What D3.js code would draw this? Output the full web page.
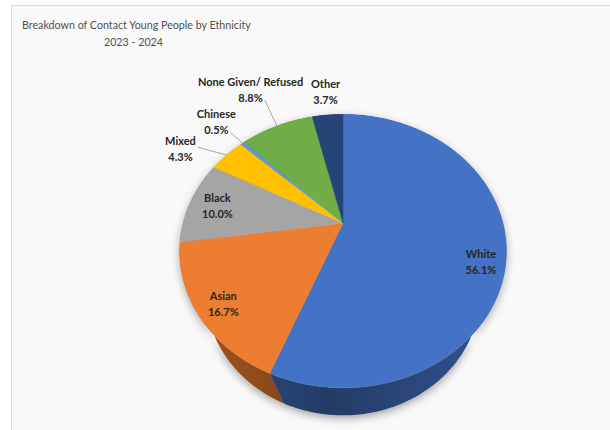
<!DOCTYPE html>
<html><head><meta charset="utf-8">
<script src="https://cdn.jsdelivr.net/npm/d3@7"></script>
<style>body{margin:0;background:#fff}</style>
</head><body>
<svg id="c" width="610" height="430"></svg>
<script>
// ---- data ----
const categories = ["White","Asian","Black","Mixed","Chinese","None Given/ Refused","Other"];
const values = [56.1,16.7,10.0,4.3,0.5,8.8,3.7];
const valueLabels = ["56.1%","16.7%","10.0%","4.3%","0.5%","8.8%","3.7%"];
const colors = ["#4472C4","#ED7D31","#A5A5A5","#FFC000","#5B9BD5","#70AD47","#264478"];
const titleLines = ["Breakdown of Contact Young People by Ethnicity","2023 - 2024"];

// ---- label layout (radial position in pie units + nudge) ----
const labelLayout = [
  {r:0.85, dx:0,   dy:17, leader:null},
  {r:0.85, dx:0,   dy:4,  leader:null},
  {r:0.82, dx:0,   dy:1,  leader:null},
  {r:1.25, dx:-21, dy:9,  leader:0},
  {r:1.25, dx:-5,  dy:-4, leader:1},
  {r:1.25, dx:-13, dy:-16, leader:1},
  {r:1.25, dx:1,   dy:-1, leader:null}
];

const svg = d3.select("#c");
const defs = svg.append("defs");
const f = defs.append("filter").attr("id","sh").attr("x","-20%").attr("y","-20%").attr("width","140%").attr("height","140%");
f.append("feDropShadow").attr("dx",0).attr("dy",3).attr("stdDeviation",4).attr("flood-color","#000").attr("flood-opacity",0.35);

// frame
svg.append("rect").attr("x",11.5).attr("y",5.5).attr("width",700).attr("height",500)
  .attr("fill","#f9f9f9").attr("stroke","#d9d9d9");

// title
const title = svg.append("g").attr("font-family","Lato, 'Open Sans', sans-serif").attr("fill","#505050").attr("font-size",10.7);
title.append("text").attr("x",22).attr("y",29).text(titleLines[0]);
title.append("text").attr("x",133.5).attr("y",46).attr("text-anchor","middle").text(titleLines[1]);

// ---- 3D projection ----
const cx=343, cy=223, FOC=446, DIST=2.79, EL=55*Math.PI/180, SE=Math.sin(EL), CE=Math.cos(EL), TH=0.62;
function proj(phi, r, h){
  const u=r*Math.sin(phi), v=r*Math.cos(phi);
  const depth=DIST+v*CE-h*SE;
  return [cx+FOC*u/depth, cy-FOC*(v*SE+h*CE)/depth];
}
function arcPts(a0,a1,r,h){
  const n=Math.max(2,Math.ceil(Math.abs(a1-a0)/(Math.PI/360)));
  const pts=[];
  for(let i=0;i<=n;i++){pts.push(proj(a0+(a1-a0)*i/n,r,h));}
  return pts;
}
const line = d3.line();

const pie = d3.pie().sort(null).value(d=>d.value).startAngle(0).endAngle(2*Math.PI);
const data = categories.map((c,i)=>({name:c,value:values[i],label:valueLabels[i],color:colors[i],lay:labelLayout[i]}));
const arcs = pie(data);

// sides
const grad = defs.append("linearGradient").attr("id","sideShade").attr("gradientUnits","userSpaceOnUse")
  .attr("x1",181).attr("y1",0).attr("x2",505).attr("y2",0);
grad.append("stop").attr("offset","0%").attr("stop-color","#000").attr("stop-opacity",0.05);
grad.append("stop").attr("offset","45%").attr("stop-color","#000").attr("stop-opacity",0.3);
grad.append("stop").attr("offset","100%").attr("stop-color","#000").attr("stop-opacity",0.0);

const sides = svg.append("g").attr("filter","url(#sh)");
arcs.forEach(a=>{
  const top=arcPts(a.startAngle,a.endAngle,1,0);
  const bot=arcPts(a.endAngle,a.startAngle,1,-TH);
  const p=line(top.concat(bot))+"Z";
  sides.append("path").attr("d",p).attr("fill",d3.color(a.data.color).darker(0.85));
});
const sides2 = svg.append("g");
arcs.forEach(a=>{
  const top=arcPts(a.startAngle,a.endAngle,1,0);
  const bot=arcPts(a.endAngle,a.startAngle,1,-TH);
  sides2.append("path").attr("d",line(top.concat(bot))+"Z").attr("fill","url(#sideShade)");
});

// top faces
const tops = svg.append("g");
arcs.forEach(a=>{
  const pts=[proj(0,0,0)].concat(arcPts(a.startAngle,a.endAngle,1,0));
  tops.append("path").attr("d",line(pts)+"Z").attr("fill",a.data.color)
    .attr("stroke",a.data.color).attr("stroke-width",0.5);
});

// labels
const lg = svg.append("g").attr("font-family","Lato, 'Open Sans', sans-serif").attr("font-weight","bold")
  .attr("font-size",11).attr("fill","#262626").attr("text-anchor","middle");
arcs.forEach(a=>{
  const L=a.data.lay, mid=(a.startAngle+a.endAngle)/2;
  const p=proj(mid,L.r,0);
  const x=p[0]+L.dx, y=p[1]+L.dy;
  const t=lg.append("text").attr("x",x).attr("y",y-4);
  const t1=t.append("tspan").attr("x",x).attr("dy",0).text(a.data.name);
  const t2=t.append("tspan").attr("x",x).attr("dy",16).text(a.data.label);
  if(L.leader!==null){
    const ts=[t1,t2][L.leader];
    const w=ts.node().getComputedTextLength();
    const sx=x+w/2+2, sy=(y-4)+16*L.leader+ (L.leader===0?2:-2);
    const e=proj(mid,1,0);
    svg.append("line").attr("x1",sx).attr("y1",sy).attr("x2",e[0]).attr("y2",e[1])
      .attr("stroke","#a6a6a6").attr("stroke-width",1);
  }
});
</script>
</body></html>
